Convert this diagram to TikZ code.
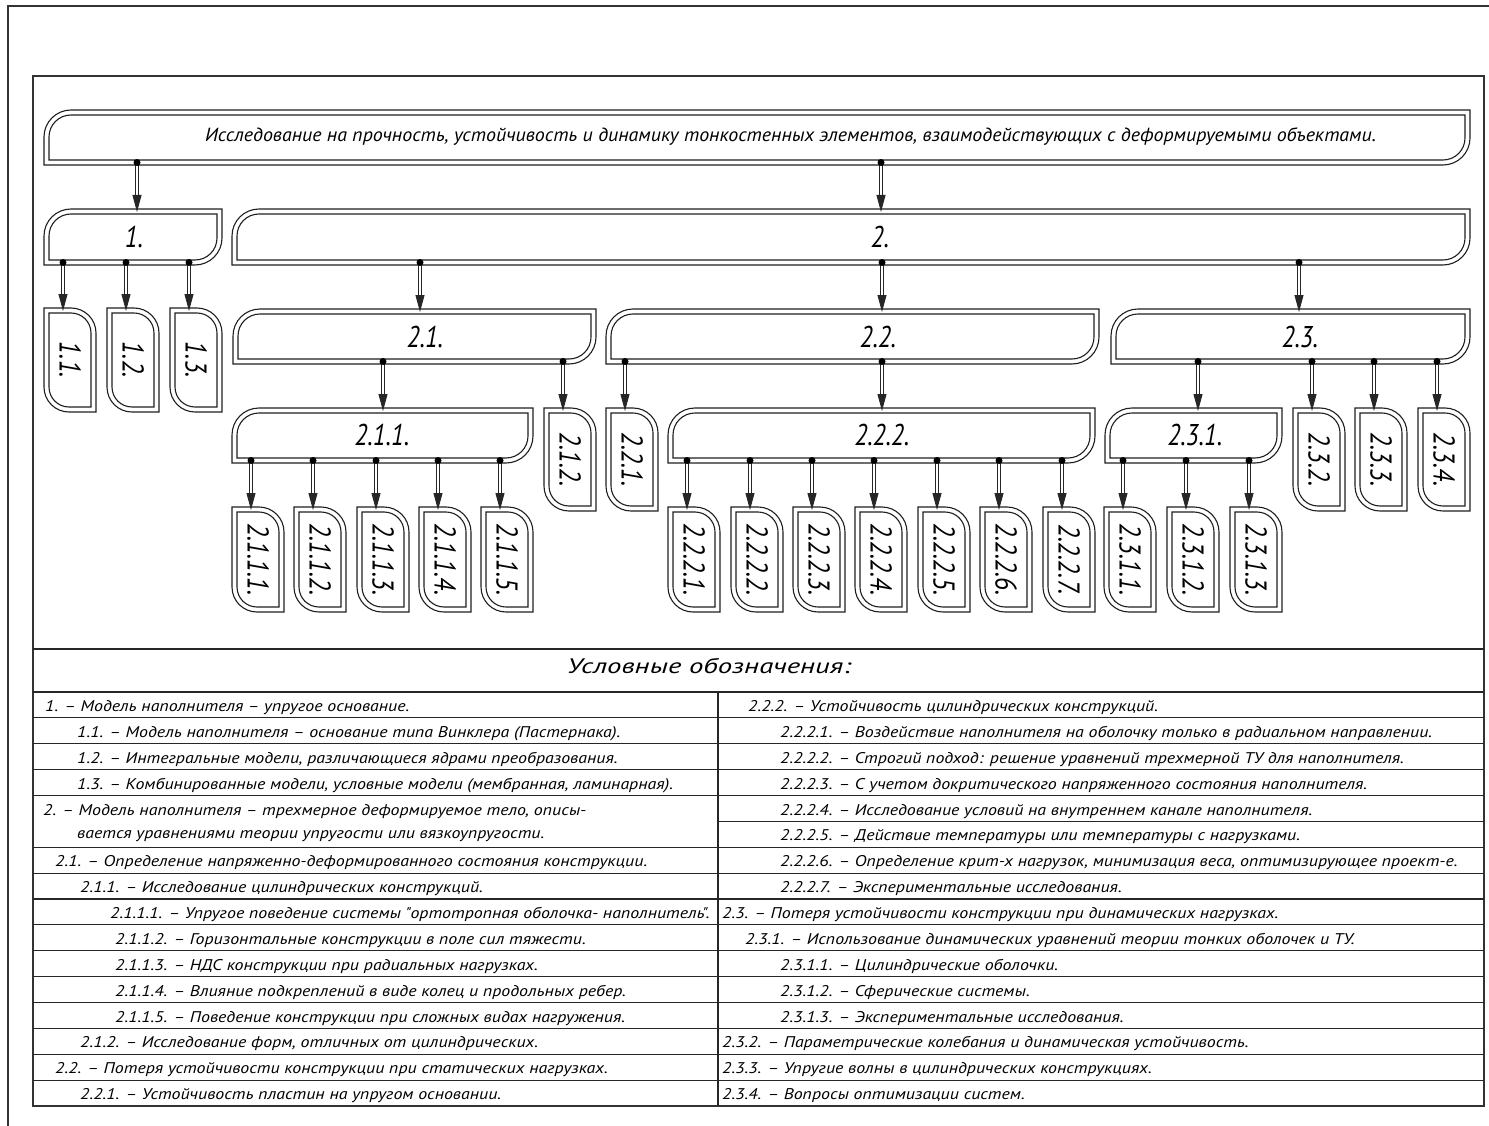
\documentclass[tikz,border=0pt]{standalone}
\usepackage{fontspec}
\usepackage{graphicx}
\usetikzlibrary{calc,arrows.meta}
\newfontfamily\gost{PT Sans}
\newsavebox\fitbox
\newlength\fitlen
\newcommand\fitw[2]{\sbox\fitbox{#2}\setlength\fitlen{\wd\fitbox}\pgfmathsetmacro\fitk{#1/\fitlen}\scalebox{\fitk}[1]{\usebox\fitbox}}
\newcommand\lblfont{\gost\itshape\fontsize{30}{32}\selectfont}
\newcommand\tabfont{\gost\itshape\fontsize{15.5}{18}\selectfont}
\tikzset{
  edge/.style={draw=black!88, line width=1.1pt},
  frame/.style={draw=black!80, line width=1.4pt},
  tline/.style={draw=black!85, line width=1.1pt},
  boxn/.style={draw=none, inner sep=0pt, outer sep=0pt},
  lbl/.style={inner sep=0pt, font=\lblfont},
  tabt/.style={anchor=base west, inner sep=0pt, font=\tabfont},
  conn/.style={draw=black!85, line width=0.9pt, double=white, double distance=1.7pt, -{Triangle[length=17pt,width=9pt]}},
  dotc/.style={fill=black}
}
% horizontal box outline: rounded NW and SE corners
\newcommand\hshape[3]{%
  \pgfmathsetmacro\rr{#3}\pgfmathsetmacro\cc{#3*0.4477}%
  \draw[edge] ($(#1.south west)+(#2,-#2)$) -- ($(#1.north west)+(#2,#2+\rr)$)
    .. controls ($(#1.north west)+(#2,#2+\cc)$) and ($(#1.north west)+(#2+\cc,#2)$) .. ($(#1.north west)+(#2+\rr,#2)$)
    -- ($(#1.north east)+(-#2,#2)$) -- ($(#1.south east)+(-#2,-#2-\rr)$)
    .. controls ($(#1.south east)+(-#2,-#2-\cc)$) and ($(#1.south east)+(-#2-\cc,-#2)$) .. ($(#1.south east)+(-#2-\rr,-#2)$)
    -- cycle;}
% vertical box outline: rounded NE and SW corners
\newcommand\vshape[3]{%
  \pgfmathsetmacro\rr{#3}\pgfmathsetmacro\cc{#3*0.4477}%
  \draw[edge] ($(#1.north west)+(#2,#2)$) -- ($(#1.north east)+(-#2-\rr,#2)$)
    .. controls ($(#1.north east)+(-#2-\cc,#2)$) and ($(#1.north east)+(-#2,#2+\cc)$) .. ($(#1.north east)+(-#2,#2+\rr)$)
    -- ($(#1.south east)+(-#2,-#2)$) -- ($(#1.south west)+(#2+\rr,-#2)$)
    .. controls ($(#1.south west)+(#2+\cc,-#2)$) and ($(#1.south west)+(#2,-#2-\cc)$) .. ($(#1.south west)+(#2,-#2-\rr)$)
    -- cycle;}
\newcommand\hbx[5]{%
  \pgfmathsetmacro\bw{#4-#2}\pgfmathsetmacro\bh{#5-#3}%
  \pgfmathsetmacro\bx{(#2+#4)/2}\pgfmathsetmacro\by{(#3+#5)/2}%
  \node[boxn, minimum width=\bw pt, minimum height=\bh pt] (#1) at (\bx,\by) {};%
  \hshape{#1}{0}{27}\hshape{#1}{5}{22}}
\newcommand\vbx[5]{%
  \pgfmathsetmacro\bx{#2+7}\pgfmathsetmacro\by{(#3+#4)/2}\pgfmathsetmacro\bh{#4-#3}%
  \node[boxn, minimum width=52pt, minimum height=\bh pt, font=\lblfont] (#1) at (\bx,\by) {\rotatebox{-90}{\scalebox{0.83}[1]{#5}}};%
  \vshape{#1}{0}{25}\vshape{#1}{5}{20}}
\newcommand\cn[3]{%
  \coordinate (#2-in) at ($(#2.north west)+(#3,3)$);
  \coordinate (#2-out) at ($(#1.south -| #2-in)+(0,-2.5)$);
  \draw[conn] (#2-out) -- (#2-in);
  \fill[dotc] (#2-out) circle (3.5pt);}
\newcommand\tr[4]{\node[tabt] (#1) at (#2,#3) {\scalebox{\tk}[1]{#4}};}
\begin{document}
\sbox\fitbox{\tabfont 2.2.2.1. – Воздействие наполнителя на оболочку только в радиальном направлении.}%
\setlength\fitlen{\wd\fitbox}%
\pgfmathsetmacro\tk{652/\fitlen}%
\begin{tikzpicture}[x=1pt,y=-1pt]
\useasboundingbox (0,0) rectangle (1489,1126);
\fill[white] (0,0) rectangle (1489,1126);
% frames
\draw[frame] (8,1126) -- (8,6) -- (1489,6);
\draw[frame] (33,76) rectangle (1484,1106);
% boxes
\hbx{top}{44}{110}{1470}{165}
\node[inner sep=0pt, anchor=base, font=\gost\itshape\fontsize{19}{21}\selectfont] (top-t) at (790.5,142) {\fitw{1171}{Исследование на прочность, устойчивость и динамику тонкостенных элементов, взаимодействующих с деформируемыми объектами.}};
\hbx{n1}{44}{209}{222}{265}
\node[lbl] (n1-t) at (134,237) {\scalebox{0.83}[1]{1.}};
\hbx{n2}{232}{209}{1470}{265}
\node[lbl] (n2-t) at (880,237) {\scalebox{0.83}[1]{2.}};
\vbx{n11}{63}{308}{412}{1.1.}
\vbx{n12}{126}{308}{412}{1.2.}
\vbx{n13}{189}{308}{412}{1.3.}
\hbx{n21}{233}{309}{596}{364}
\node[lbl] (n21-t) at (425,337) {\scalebox{0.83}[1]{2.1.}};
\hbx{n22}{606}{309}{1099}{364}
\node[lbl] (n22-t) at (878,337) {\scalebox{0.83}[1]{2.2.}};
\hbx{n23}{1111}{309}{1470}{364}
\node[lbl] (n23-t) at (1300,337) {\scalebox{0.83}[1]{2.3.}};
\hbx{n211}{232}{408}{533}{463}
\node[lbl] (n211-t) at (382,435) {\scalebox{0.83}[1]{2.1.1.}};
\vbx{n212}{563}{408}{511}{2.1.2.}
\vbx{n221}{625}{408}{511}{2.2.1.}
\hbx{n222}{668}{408}{1095}{463}
\node[lbl] (n222-t) at (882,435) {\scalebox{0.83}[1]{2.2.2.}};
\hbx{n231}{1105}{408}{1282}{463}
\node[lbl] (n231-t) at (1195,435) {\scalebox{0.83}[1]{2.3.1.}};
\vbx{n232}{1312}{408}{511}{2.3.2.}
\vbx{n233}{1374}{408}{511}{2.3.3.}
\vbx{n234}{1437}{408}{511}{2.3.4.}
\vbx{n2111}{251}{507}{612}{2.1.1.1.}
\vbx{n2112}{313}{507}{612}{2.1.1.2.}
\vbx{n2113}{376}{507}{612}{2.1.1.3.}
\vbx{n2114}{438}{507}{612}{2.1.1.4.}
\vbx{n2115}{500}{507}{612}{2.1.1.5.}
\vbx{n2221}{687}{507}{612}{2.2.2.1.}
\vbx{n2222}{750}{507}{612}{2.2.2.2.}
\vbx{n2223}{812}{507}{612}{2.2.2.3.}
\vbx{n2224}{874}{507}{612}{2.2.2.4.}
\vbx{n2225}{937}{507}{612}{2.2.2.5.}
\vbx{n2226}{999}{507}{612}{2.2.2.6.}
\vbx{n2227}{1062}{507}{612}{2.2.2.7.}
\vbx{n2311}{1123}{507}{612}{2.3.1.1.}
\vbx{n2312}{1186}{507}{612}{2.3.1.2.}
\vbx{n2313}{1249}{507}{612}{2.3.1.3.}
% connectors
\cn{top}{n1}{93}
\cn{top}{n2}{649}
\cn{n1}{n11}{19}
\cn{n1}{n12}{19}
\cn{n1}{n13}{19}
\cn{n2}{n21}{187}
\cn{n2}{n22}{276}
\cn{n2}{n23}{188}
\cn{n21}{n211}{151}
\cn{n21}{n212}{19}
\cn{n22}{n221}{19}
\cn{n22}{n222}{214}
\cn{n23}{n231}{93}
\cn{n23}{n232}{19}
\cn{n23}{n233}{19}
\cn{n23}{n234}{19}
\foreach \c in {n2111,n2112,n2113,n2114,n2115} {\cn{n211}{\c}{19}}
\foreach \c in {n2221,n2222,n2223,n2224,n2225,n2226,n2227} {\cn{n222}{\c}{19}}
\foreach \c in {n2311,n2312,n2313} {\cn{n231}{\c}{19}}
% legend table
\draw[tline] (33,649) -- (1484,649);
\draw[tline] (33,692) -- (1484,692);
\draw[tline] (718,692) -- (718,1106);
\foreach \k in {1,2,3,4,6,7,8,9,10,11,12,13,14,15} {\draw[tline] (33,{692+25.875*\k}) -- (1484,{692+25.875*\k});}
\draw[tline] (718,{692+25.875*5}) -- (1484,{692+25.875*5});
\node[inner sep=0pt, anchor=base, font=\gost\itshape\fontsize{21}{23}\selectfont] (leg-t) at (709,673) {\fitw{284}{Условные обозначения:}};
% left column
\tr{l0}{45}{711.5}{1. – Модель наполнителя – упругое основание.}
\tr{l1}{77}{737.4}{1.1. – Модель наполнителя – основание типа Винклера (Пастернака).}
\tr{l2}{77}{763.25}{1.2. – Интегральные модели, различающиеся ядрами преобразования.}
\tr{l3}{77}{789.1}{1.3. – Комбинированные модели, условные модели (мембранная, ламинарная).}
\tr{l4}{43}{815}{2. – Модель наполнителя – трехмерное деформируемое тело, описы-}
\tr{l5}{77}{838}{вается уравнениями теории упругости или вязкоупругости.}
\tr{l6}{55}{866.75}{2.1. – Определение напряженно-деформированного состояния конструкции.}
\tr{l7}{80}{892.6}{2.1.1. – Исследование цилиндрических конструкций.}
\tr{l8}{110}{918.5}{2.1.1.1. – Упругое поведение системы "ортотропная оболочка- наполнитель".}
\tr{l9}{115}{944.4}{2.1.1.2. – Горизонтальные конструкции в поле сил тяжести.}
\tr{l10}{115}{970.25}{2.1.1.3. – НДС конструкции при радиальных нагрузках.}
\tr{l11}{115}{996.1}{2.1.1.4. – Влияние подкреплений в виде колец и продольных ребер.}
\tr{l12}{115}{1022}{2.1.1.5. – Поведение конструкции при сложных видах нагружения.}
\tr{l13}{80}{1047.9}{2.1.2. – Исследование форм, отличных от цилиндрических.}
\tr{l14}{55}{1073.75}{2.2. – Потеря устойчивости конструкции при статических нагрузках.}
\tr{l15}{80}{1099.6}{2.2.1. – Устойчивость пластин на упругом основании.}
% right column
\tr{r0}{748}{711.5}{2.2.2. – Устойчивость цилиндрических конструкций.}
\tr{r1}{780}{737.4}{2.2.2.1. – Воздействие наполнителя на оболочку только в радиальном направлении.}
\tr{r2}{780}{763.25}{2.2.2.2. – Строгий подход: решение уравнений трехмерной ТУ для наполнителя.}
\tr{r3}{780}{789.1}{2.2.2.3. – С учетом докритического напряженного состояния наполнителя.}
\tr{r4}{780}{815}{2.2.2.4. – Исследование условий на внутреннем канале наполнителя.}
\tr{r5}{780}{840.9}{2.2.2.5. – Действие температуры или температуры с нагрузками.}
\tr{r6}{780}{866.75}{2.2.2.6. – Определение крит-х нагрузок, минимизация веса, оптимизирующее проект-е.}
\tr{r7}{780}{892.6}{2.2.2.7. – Экспериментальные исследования.}
\tr{r8}{722}{918.5}{2.3. – Потеря устойчивости конструкции при динамических нагрузках.}
\tr{r9}{745}{944.4}{2.3.1. – Использование динамических уравнений теории тонких оболочек и ТУ.}
\tr{r10}{780}{970.25}{2.3.1.1. – Цилиндрические оболочки.}
\tr{r11}{780}{996.1}{2.3.1.2. – Сферические системы.}
\tr{r12}{780}{1022}{2.3.1.3. – Экспериментальные исследования.}
\tr{r13}{722}{1047.9}{2.3.2. – Параметрические колебания и динамическая устойчивость.}
\tr{r14}{722}{1073.75}{2.3.3. – Упругие волны в цилиндрических конструкциях.}
\tr{r15}{722}{1099.6}{2.3.4. – Вопросы оптимизации систем.}
\end{tikzpicture}
\end{document}
